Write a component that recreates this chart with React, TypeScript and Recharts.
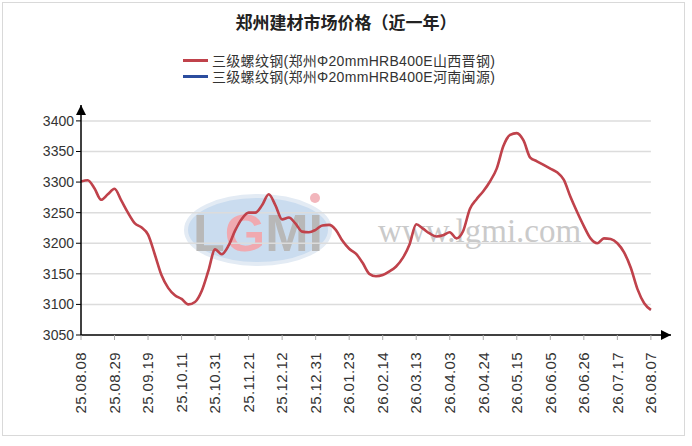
import React from 'react';
import { LineChart, Line, XAxis, YAxis, ReferenceLine } from 'recharts';

const dateLabels = [
  '25.08.08', '25.08.29', '25.09.19', '25.10.11', '25.10.31', '25.11.21',
  '25.12.12', '25.12.31', '26.01.23', '26.02.14', '26.03.13', '26.04.03',
  '26.04.24', '26.05.15', '26.06.05', '26.06.26', '26.07.17', '26.08.07',
];

// 5 readings per label interval
const shanxiPrices = [
  3301, 3303, 3290, 3271, 3280, 3289, 3270, 3250, 3233, 3226,
  3214, 3182, 3148, 3127, 3115, 3109, 3100, 3104, 3122, 3155,
  3190, 3182, 3196, 3221, 3240, 3250, 3250, 3262, 3280, 3262,
  3239, 3242, 3232, 3219, 3218, 3222, 3229, 3230, 3222, 3204,
  3191, 3183, 3168, 3150, 3146, 3148, 3154, 3162, 3176, 3198,
  3231, 3224, 3216, 3211, 3213, 3218, 3208, 3220, 3256, 3272,
  3285, 3301, 3322, 3359, 3377, 3380, 3368, 3340, 3334, 3328,
  3322, 3316, 3304, 3276, 3251, 3228, 3208, 3200, 3208, 3207,
  3200, 3185, 3160, 3125, 3102, 3091,
];

// hidden under the red line in the picture
const minyuanPrices = shanxiPrices;

const yTicks = [3050, 3100, 3150, 3200, 3250, 3300, 3350, 3400];
const gridValues = [3100, 3150, 3200, 3250, 3300, 3350, 3400];
const PER_LABEL = 5;
const xTicks = dateLabels.map((_, i) => i * PER_LABEL);
const lastIdx = shanxiPrices.length - 1;

const data = shanxiPrices.map((v, i) => ({ idx: i, shanxi: v, minyuan: minyuanPrices[i] }));

const series = [
  { key: 'shanxi', name: '三级螺纹钢(郑州Φ20mmHRB400E山西晋钢)', color: '#c0424b' },
  { key: 'minyuan', name: '三级螺纹钢(郑州Φ20mmHRB400E河南闽源)', color: '#2b4d9e' },
];

const latinFont = '"Liberation Sans", Arial, "Noto Sans CJK SC", sans-serif';

const DateTick = ({ x, y, payload }: any) => (
  <text
    x={x}
    y={y + 10}
    transform={`rotate(-90, ${x}, ${y + 10})`}
    textAnchor="end"
    dy="0.35em"
    fill="#333"
    fontSize={15}
    letterSpacing={0.4}
    fontFamily={latinFont}
  >
    {dateLabels[payload.value / PER_LABEL]}
  </text>
);

const Watermark = () => (
  <svg width={692} height={446} style={{ position: 'absolute', left: 0, top: 0 }}>
    <ellipse cx={258} cy={230} rx={72} ry={34} fill="#cadcef" stroke="#e3ebf4" strokeWidth={4} />
    <text x={258} y={251} textAnchor="middle" fontSize={52} fontWeight="bold" fontFamily={latinFont} fill="#b8b8b8">
      L<tspan fill="#f0a9b0">G</tspan>MI
    </text>
    <circle cx={315} cy={198} r={5} fill="#f2b6bc" />
    <text x={378} y={242} fontSize={33} fontFamily='"Liberation Serif", serif' fill="#cacaca">
      www.lgmi.com
    </text>
  </svg>
);

export default function App() {
  return (
    <div style={{ position: 'absolute', left: 0, top: 0, width: 692, height: 446, background: '#fff' }}>
      <Watermark />
      <div
        style={{
          position: 'absolute', left: 2, top: 2, width: 683, height: 434,
          border: '1px solid #d9d9d9', boxSizing: 'border-box',
        }}
      />
      <div
        style={{
          position: 'absolute', left: 0, top: 9, width: 692, textAlign: 'center',
          fontFamily: '"Noto Sans CJK SC", sans-serif', fontWeight: 'bold', fontSize: 17, color: '#222',
        }}
      >
        郑州建材市场价格（近一年）
      </div>
      <div style={{ position: 'absolute', left: 183, top: 52 }}>
        {series.map((s) => (
          <div key={s.key} style={{ display: 'flex', alignItems: 'center', height: 16 }}>
            <span style={{ display: 'inline-block', width: 25, height: 3, background: s.color, marginRight: 4 }} />
            <span style={{ fontSize: 14, color: '#333', fontFamily: latinFont, letterSpacing: 0.3 }}>{s.name}</span>
          </div>
        ))}
      </div>
      <div style={{ position: 'absolute', left: 0, top: 0 }}>
        <LineChart width={692} height={446} data={data} margin={{ top: 105, right: 21, bottom: 0, left: 0 }}>
          <defs>
            <marker id="axisArrow" viewBox="0 0 10 10" refX={10} refY={5} markerWidth={11} markerHeight={10}
              markerUnits="userSpaceOnUse" orient="auto-start-reverse">
              <path d="M0,0 L10,5 L0,10 z" fill="#000" />
            </marker>
          </defs>
          {gridValues.map((v) => (
            <ReferenceLine
              key={v}
              segment={[{ x: 0, y: v }, { x: lastIdx, y: v }]}
              stroke="#dcdcdc"
              strokeWidth={1.5}
            />
          ))}
          <XAxis
            dataKey="idx"
            type="number"
            domain={[0, 88]}
            ticks={xTicks}
            interval={0}
            height={111}
            tick={<DateTick />}
            tickSize={5}
            tickLine={{ stroke: '#aaa' }}
            axisLine={{ stroke: '#000', strokeWidth: 1.5, markerEnd: 'url(#axisArrow)' }}
          />
          <YAxis
            type="number"
            domain={[3050, 3426]}
            ticks={yTicks}
            interval={0}
            width={81}
            tickSize={5}
            tickMargin={2}
            tick={{ fill: '#333', fontSize: 14, fontFamily: latinFont }}
            tickLine={{ stroke: '#000' }}
            axisLine={{ stroke: '#000', strokeWidth: 1.5, markerStart: 'url(#axisArrow)' }}
          />
          <Line
            type="monotone"
            dataKey="minyuan"
            stroke={series[1].color}
            strokeWidth={1.2}
            dot={false}
            isAnimationActive={false}
          />
          <Line
            type="monotone"
            dataKey="shanxi"
            stroke={series[0].color}
            strokeWidth={2.6}
            dot={false}
            isAnimationActive={false}
          />
        </LineChart>
      </div>
    </div>
  );
}
